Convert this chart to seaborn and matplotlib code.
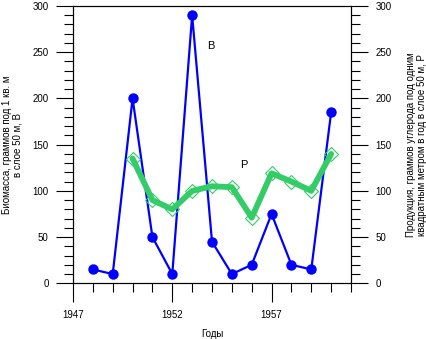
import matplotlib
matplotlib.use("Agg")
import matplotlib.pyplot as plt
import pandas as pd
import seaborn as sns
from matplotlib.ticker import FixedLocator, MultipleLocator

# Biomass (B), g per 1 sq. m in the 50 m layer
years_b = [1948, 1949, 1950, 1951, 1952, 1953, 1954, 1955, 1956, 1957, 1958, 1959, 1960]
biomass = [15, 10, 200, 50, 10, 290, 45, 10, 20, 75, 20, 15, 185]

# Production (P), g C per sq. m per year in the 50 m layer
years_p = [1950, 1951, 1952, 1953, 1954, 1955, 1956, 1957, 1958, 1959, 1960]
production = [135, 90, 80, 100, 105, 104, 71, 119, 110, 100, 140]

x_ticks = [1947, 1952, 1957]
y_ticks = [0, 50, 100, 150, 200, 250, 300]

blue = "#0000ff"
green = "#33cc66"

sns.set_style("ticks")
plt.rcParams["font.family"] = ["Liberation Sans", "DejaVu Sans"]
plt.rcParams["font.size"] = 7
plt.rcParams["axes.linewidth"] = 0.8
for key in ("text.color", "axes.labelcolor", "xtick.color", "ytick.color",
            "axes.edgecolor"):
    plt.rcParams[key] = "black"

df_b = pd.DataFrame({"year": years_b, "value": biomass})
df_p = pd.DataFrame({"year": years_p, "value": production})

W, H = 426, 339
fig = plt.figure(figsize=(W / 100, H / 100), dpi=100)
left, right, top, bottom = 73, 351, 6, 283.3
ax = fig.add_axes([left / W, 1 - bottom / H, (right - left) / W, (bottom - top) / H])
ax2 = ax.twinx()

# biomass series
sns.lineplot(data=df_b, x="year", y="value", ax=ax, color=blue, lw=1.6,
             marker="o", markersize=7.5, markeredgewidth=0, zorder=3)

# production series: hollow diamonds under a thick line
sns.lineplot(data=df_p, x="year", y="value", ax=ax2, color=green, lw=0,
             marker="D", markersize=7.2, markerfacecolor="none",
             markeredgecolor=green, markeredgewidth=0.8, zorder=2)
sns.lineplot(data=df_p, x="year", y="value", ax=ax2, color=green, lw=4.2,
             zorder=3)

for a in (ax, ax2):
    a.set_ylim(0, 300)
    a.set_xlim(1947, 1961)
    a.yaxis.set_major_locator(FixedLocator(y_ticks))
    a.yaxis.set_minor_locator(MultipleLocator(10))
    a.set_xlabel("")
    for s in a.spines.values():
        s.set_visible(True)
        s.set_color("black")
        s.set_linewidth(0.8)

ax.xaxis.set_major_locator(FixedLocator(x_ticks))
ax.xaxis.set_minor_locator(MultipleLocator(1))
ax.set_xticklabels([str(t) for t in x_ticks])

ax.tick_params(axis="y", which="major", direction="out", length=12, width=0.8,
               pad=5.5, labelsize=7, left=True, right=False, colors="black")
ax.tick_params(axis="y", which="minor", direction="out", length=6.5, width=0.8,
               left=True, right=False, colors="black")
ax.tick_params(axis="x", which="major", direction="out", length=13.5, width=0.8,
               pad=6, labelsize=7, top=False, colors="black")
ax.tick_params(axis="x", which="minor", direction="out", length=6.5, width=0.8,
               top=False, colors="black")
ax2.tick_params(axis="y", which="major", direction="out", length=12, width=0.8,
                pad=5.5, labelsize=7, right=True, left=False, colors="black")
ax2.tick_params(axis="y", which="minor", direction="out", length=6.5, width=0.8,
                right=True, left=False, colors="black")

ax.set_ylabel("Биомасса, граммов под 1 кв. м\nв слое 50 м, В", fontsize=7,
              linespacing=1.1, color="black")
ax.yaxis.set_label_coords(-0.18, 0.5)
ax2.set_ylabel("Продукция, граммов углерода под одним\n"
               "квадратным метром в год в слое 50 м, Р", fontsize=7,
               rotation=90, linespacing=1.1, color="black")
ax2.yaxis.set_label_coords(1.198, 0.5)
ax.set_xlabel("Годы", fontsize=7, color="black")
ax.xaxis.set_label_coords(0.5, -0.165)

ax.text(1953.93, 257, "В", fontsize=8, ha="center", va="center", color="black")
ax2.text(1955.6, 128, "Р", fontsize=8, ha="center", va="center", color="black")

ax.set_zorder(ax2.get_zorder() - 1)
ax2.patch.set_visible(False)
ax.patch.set_facecolor("white")

fig.savefig("out.png", dpi=100, facecolor="white")
